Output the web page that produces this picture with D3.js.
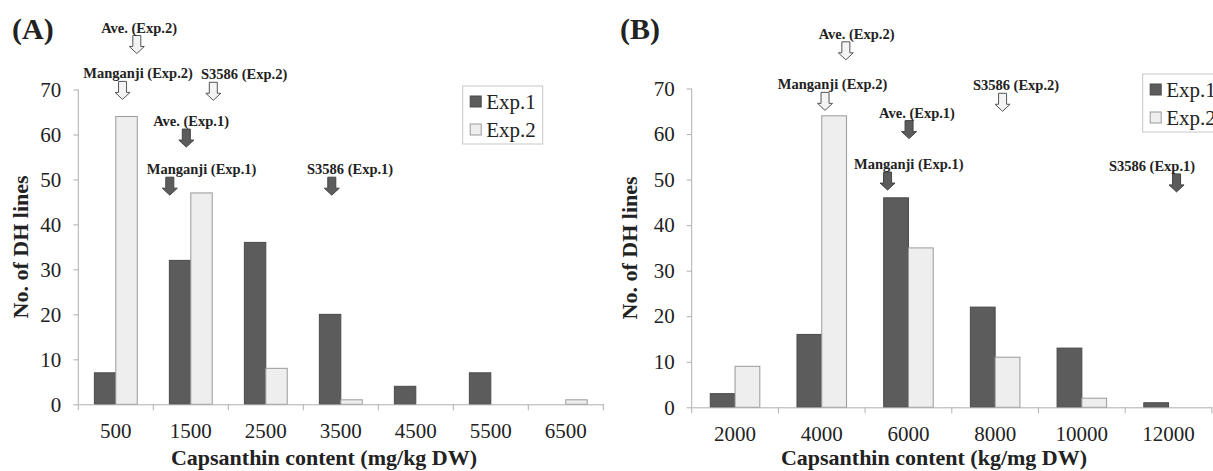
<!DOCTYPE html>
<html>
<head>
<meta charset="utf-8">
<script src="https://cdn.jsdelivr.net/npm/d3@7"></script>
<style>
  body { margin: 0; background: #fff; }
  svg { display: block; }
  text { font-family: "Liberation Serif", "Times New Roman", serif; fill: #222; }
</style>
</head>
<body>
<svg id="chart" width="1213" height="471"></svg>
<script>
// panel A
var catsA = ["500", "1500", "2500", "3500", "4500", "5500", "6500"];
var exp1A = [7, 32, 36, 20, 4, 7, 0];
var exp2A = [64, 47, 8, 1, 0, 0, 1];
// panel B
var catsB = ["2000", "4000", "6000", "8000", "10000", "12000"];
var exp1B = [3, 16, 46, 22, 13, 1];
var exp2B = [9, 64, 35, 11, 2, 0];

var series = ["Exp.1", "Exp.2"];
var yTicks = [0, 10, 20, 30, 40, 50, 60, 70];

// arrows: at = capsanthin value pointed to, tip = y level of arrow tip, labelAt = label centre
var notesA = [
  { label: "Ave. (Exp.2)", exp: "Exp.2", at: 780, tip: 78, labelAt: 811 },
  { label: "Manganji (Exp.2)", exp: "Exp.2", at: 590, tip: 67.8, labelAt: 797 },
  { label: "S3586 (Exp.2)", exp: "Exp.2", at: 1800, tip: 67.6, labelAt: 2211 },
  { label: "Ave. (Exp.1)", exp: "Exp.1", at: 1440, tip: 57.2, labelAt: 1504 },
  { label: "Manganji (Exp.1)", exp: "Exp.1", at: 1220, tip: 46.5, labelAt: 1644 },
  { label: "S3586 (Exp.1)", exp: "Exp.1", at: 3380, tip: 46.5, labelAt: 3624 }
];
var notesB = [
  { label: "Ave. (Exp.2)", exp: "Exp.2", at: 4556, tip: 76.3, labelAt: 4803 },
  { label: "Manganji (Exp.2)", exp: "Exp.2", at: 4076, tip: 65.2, labelAt: 4249 },
  { label: "Ave. (Exp.1)", exp: "Exp.1", at: 6014, tip: 59, labelAt: 6198 },
  { label: "Manganji (Exp.1)", exp: "Exp.1", at: 5518, tip: 47.7, labelAt: 6007 },
  { label: "S3586 (Exp.2)", exp: "Exp.2", at: 8171, tip: 65, labelAt: 8482 },
  { label: "S3586 (Exp.1)", exp: "Exp.1", at: 12185, tip: 47.3, labelAt: 11619 }
];

var fill = { "Exp.1": "#5c5c5c", "Exp.2": "#eeeeee" };
var stroke = { "Exp.1": "#4a4a4a", "Exp.2": "#9a9a9a" };

var svg = d3.select("#chart");
svg.append("rect").attr("width", 1213).attr("height", 471).attr("fill", "#fff");

function panel(opt) {
  var g = svg.append("g");
  var x = d3.scaleBand().domain(opt.cats).range([opt.x0, opt.x1]).padding(0);
  var x1 = d3.scaleBand().domain(series).range([0, x.bandwidth()]).paddingInner(0).paddingOuter(0.75);
  var y = d3.scaleLinear().domain([0, 70]).range([opt.y0, opt.y1]);
  var vals = opt.cats.map(function(c) { return +c; });
  var xv = d3.scaleLinear().domain([vals[0], vals[vals.length - 1]])
    .range([x(opt.cats[0]) + x.bandwidth() / 2, x(opt.cats[opt.cats.length - 1]) + x.bandwidth() / 2]);

  // y axis
  var ya = g.append("g").attr("transform", "translate(" + opt.x0 + ",0)")
    .call(d3.axisLeft(y).tickValues(yTicks).tickSize(5).tickPadding(12));
  ya.select(".domain").attr("stroke", "#b0b0b0").attr("d", "M0," + opt.y0 + "V" + opt.y1);
  ya.selectAll(".tick line").attr("stroke", "#b0b0b0");
  ya.selectAll(".tick text").attr("font-size", 21).attr("font-family", "Liberation Serif").attr("fill", "#222");

  // bars
  var rows = opt.cats.map(function(c, i) { return { cat: c, v: [opt.e1[i], opt.e2[i]] }; });
  g.selectAll(".grp").data(rows).enter().append("g")
    .attr("transform", function(d) { return "translate(" + x(d.cat) + ",0)"; })
    .selectAll("rect").data(function(d) { return series.map(function(s, k) { return { s: s, v: d.v[k] }; }); })
    .enter().filter(function(d) { return d.v > 0; }).append("rect")
    .attr("x", function(d) { return x1(d.s); })
    .attr("width", x1.bandwidth())
    .attr("y", function(d) { return y(d.v); })
    .attr("height", function(d) { return y(0) - y(d.v); })
    .attr("fill", function(d) { return fill[d.s]; })
    .attr("stroke", function(d) { return stroke[d.s]; })
    .attr("stroke-width", 1);

  // x axis
  var xa = g.append("g").attr("transform", "translate(0," + opt.y0 + ")")
    .call(d3.axisBottom(x).tickSize(0).tickPadding(19));
  xa.select(".domain").attr("stroke", "#b0b0b0");
  xa.selectAll(".tick text").attr("font-size", 21).attr("font-family", "Liberation Serif").attr("fill", "#222");
  var bounds = opt.cats.map(function(c) { return x(c); }).concat([opt.x1]);
  xa.selectAll(".bnd").data(bounds).enter().append("line")
    .attr("x1", function(d) { return d; }).attr("x2", function(d) { return d; })
    .attr("y1", 0).attr("y2", 6).attr("stroke", "#b0b0b0");

  // titles
  g.append("text").attr("x", opt.titleX).attr("y", 465).attr("text-anchor", "middle")
    .attr("font-size", 22).attr("font-weight", "bold").text(opt.xTitle);
  g.append("text").attr("transform", "translate(" + opt.yTitleX + "," + ((opt.y0 + opt.y1) / 2) + ") rotate(-90)")
    .attr("text-anchor", "middle").attr("font-size", 22).attr("font-weight", "bold").text("No. of DH lines");
  g.append("text").attr("x", opt.tagX).attr("y", 39).attr("font-size", 30).attr("font-weight", "bold").text(opt.tag);

  // arrows
  var ah = 18, hh = 7, hw = 7.5, sw = 4;
  var n = g.selectAll(".note").data(opt.notes).enter().append("g");
  n.append("path")
    .attr("d", function(d) {
      var cx = xv(d.at), t = y(d.tip), top = t - ah, neck = t - hh;
      return "M" + (cx - sw) + "," + top + "H" + (cx + sw) + "V" + neck + "H" + (cx + hw) +
        "L" + cx + "," + t + "L" + (cx - hw) + "," + neck + "H" + (cx - sw) + "Z";
    })
    .attr("fill", function(d) { return d.exp === "Exp.1" ? "#5c5c5c" : "#f4f4f4"; })
    .attr("stroke", function(d) { return d.exp === "Exp.1" ? "#444" : "#555"; })
    .attr("stroke-width", 1);
  n.append("text")
    .attr("x", function(d) { return xv(d.labelAt); })
    .attr("y", function(d) { return y(d.tip) - ah - 3; })
    .attr("text-anchor", "middle").attr("font-size", 14.5).attr("font-weight", "bold")
    .text(function(d) { return d.label; });

  // legend
  var lg = g.append("g").attr("transform", "translate(" + opt.legX + "," + opt.legY + ")");
  lg.append("rect").attr("width", 80).attr("height", 58).attr("fill", "#fff").attr("stroke", "#c8c8c8");
  series.forEach(function(s, i) {
    lg.append("rect").attr("x", 7.5).attr("y", 10 + i * 28).attr("width", 11).attr("height", 11)
      .attr("fill", fill[s]).attr("stroke", stroke[s]);
    lg.append("text").attr("x", 23.5).attr("y", 22.5 + i * 28).attr("font-size", 21).text(s);
  });
}

panel({ cats: catsA, e1: exp1A, e2: exp2A, notes: notesA, x0: 78.3, x1: 603.3, y0: 404.3, y1: 89.5,
  xTitle: "Capsanthin content (mg/kg DW)", titleX: 324, yTitleX: 28, tag: "(A)", tagX: 12,
  legX: 462.7, legY: 86 });
panel({ cats: catsB, e1: exp1B, e2: exp2B, notes: notesB, x0: 691.7, x1: 1211.9, y0: 407.3, y1: 88.5,
  xTitle: "Capsanthin content (kg/mg DW)", titleX: 934, yTitleX: 637, tag: "(B)", tagX: 620,
  legX: 1142.7, legY: 74 });
</script>
</body>
</html>
